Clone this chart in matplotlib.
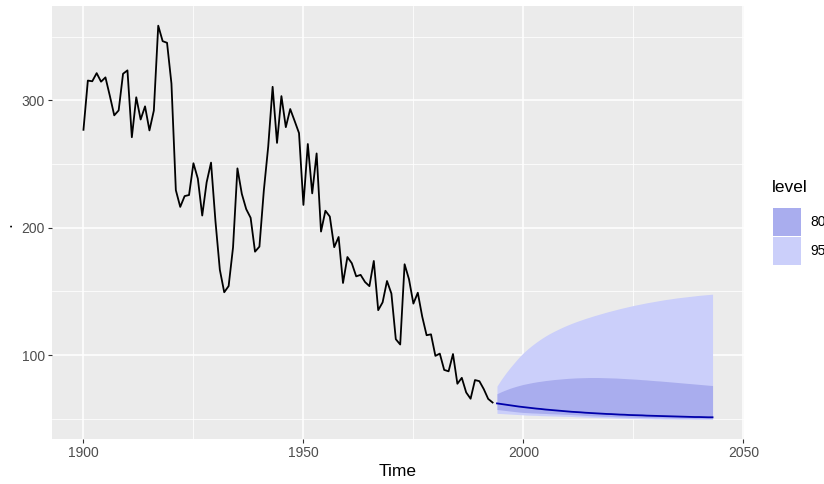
import numpy as np
import matplotlib
matplotlib.use("Agg")
import matplotlib.pyplot as plt
from matplotlib.patches import Rectangle

# ---------------------------------------------------------
# Datos: serie observada (1900-1993) y pronóstico (1994-2043)
# ---------------------------------------------------------
anios = list(range(1900, 1994))
precio = [
    276.79, 315.42, 314.87, 321.25, 314.54, 317.92, 303.39, 288.14, 292.00, 320.75,
    323.42, 270.94, 302.31, 284.87, 295.18, 276.31, 291.90, 358.49, 346.35, 345.06,
    313.09, 229.44, 216.29, 224.78, 225.59, 250.54, 238.48, 209.50, 235.57, 251.04,
    205.29, 166.99, 149.30, 154.17, 184.45, 246.52, 226.49, 214.51, 207.73, 181.15,
    185.12, 229.09, 263.70, 310.54, 266.49, 303.23, 278.86, 293.08, 283.76, 274.19,
    217.85, 265.66, 226.89, 258.25, 196.93, 213.27, 208.71, 184.68, 192.68, 156.58,
    176.95, 172.09, 161.79, 162.96, 157.37, 154.11, 173.87, 135.25, 141.37, 158.14,
    148.27, 112.48, 108.30, 171.28, 159.51, 140.41, 148.93, 130.29, 115.59, 116.29,
    99.38, 101.16, 88.38, 87.28, 100.83, 77.51, 82.16, 70.68, 65.75, 80.41,
    79.53, 73.27, 65.62, 62.80,
]

anios_fc = list(range(1994, 2044))
media_fc = [
    62.1, 61.6, 61.1, 60.6, 60.1, 59.6, 59.2, 58.8, 58.4, 58.0,
    57.7, 57.3, 57.0, 56.7, 56.4, 56.1, 55.8, 55.5, 55.3, 55.1,
    54.8, 54.6, 54.4, 54.2, 54.0, 53.8, 53.7, 53.5, 53.3, 53.2,
    53.0, 52.9, 52.8, 52.7, 52.5, 52.4, 52.3, 52.2, 52.1, 52.0,
    51.9, 51.8, 51.7, 51.6, 51.5, 51.4, 51.4, 51.3, 51.2, 51.2,
]
lo80 = [
    57.3, 56.9, 56.5, 56.1, 55.7, 55.3, 55.0, 54.8, 54.6, 54.5,
    54.3, 54.2, 54.0, 53.9, 53.8, 53.6, 53.5, 53.3, 53.1, 52.9,
    52.7, 52.5, 52.3, 52.2, 52.0, 51.9, 51.8, 51.6, 51.5, 51.4,
    51.3, 51.2, 51.1, 51.0, 51.0, 50.9, 50.8, 50.8, 50.7, 50.7,
    50.6, 50.6, 50.5, 50.5, 50.5, 50.4, 50.4, 50.4, 50.4, 50.4,
]
hi80 = [
    69.7, 71.3, 72.7, 74.0, 75.1, 76.1, 77.0, 77.7, 78.4, 79.0,
    79.5, 80.0, 80.4, 80.8, 81.1, 81.4, 81.7, 81.9, 82.1, 82.2,
    82.3, 82.4, 82.4, 82.4, 82.3, 82.2, 82.1, 82.0, 81.8, 81.6,
    81.4, 81.2, 81.0, 80.7, 80.5, 80.2, 79.9, 79.7, 79.4, 79.1,
    78.8, 78.5, 78.2, 77.9, 77.6, 77.3, 77.0, 76.7, 76.4, 76.1,
]
lo95 = [
    54.3, 54.1, 53.9, 53.7, 53.5, 53.3, 53.1, 52.9, 52.8, 52.7,
    52.5, 52.4, 52.3, 52.2, 52.1, 52.0, 51.9, 51.8, 51.6, 51.5,
    51.3, 51.2, 51.1, 51.0, 50.9, 50.8, 50.7, 50.6, 50.5, 50.4,
    50.3, 50.2, 50.2, 50.1, 50.0, 50.0, 49.9, 49.9, 49.8, 49.8,
    49.8, 49.7, 49.7, 49.7, 49.7, 49.6, 49.6, 49.6, 49.6, 49.6,
]
hi95 = [
    75.7, 81.0, 85.8, 90.2, 94.3, 98.3, 101.8, 104.9, 107.7, 110.3,
    112.7, 114.9, 116.9, 118.7, 120.4, 122.0, 123.5, 124.9, 126.2, 127.4,
    128.6, 129.7, 130.8, 131.8, 132.8, 133.8, 134.7, 135.6, 136.5, 137.3,
    138.1, 138.9, 139.6, 140.3, 141.0, 141.6, 142.2, 142.8, 143.4, 143.9,
    144.4, 144.9, 145.3, 145.7, 146.1, 146.5, 146.9, 147.2, 147.5, 147.8,
]

niveles = ["80", "95"]
color_80 = "#A9ADEE"
color_95 = "#CBCFFA"

# ---------------------------------------------------------
# Figura con estilo tipo ggplot
# ---------------------------------------------------------
plt.rcParams["font.family"] = ["Liberation Sans", "DejaVu Sans"]

fig = plt.figure(figsize=(8.24, 4.84), dpi=100)
ax = fig.add_axes([52 / 824, 1 - 439 / 484, 692 / 824, 433 / 484])
ax.set_facecolor("#EBEBEB")

# bandas de predicción y línea media
ax.fill_between(anios_fc, lo95, hi95, color=color_95, lw=0, zorder=2)
ax.fill_between(anios_fc, lo80, hi80, color=color_80, lw=0, zorder=3)
ax.plot(anios, precio, color="black", lw=1.3, zorder=4)
ax.plot(anios_fc, media_fc, color="#0000AA", lw=1.3, zorder=4)

# rangos con la expansión del 5% de ggplot
ymin = min(lo95)
ymax = max(precio)
dy = (ymax - ymin) * 0.05
ax.set_ylim(ymin - dy, ymax + dy)
xmin, xmax = anios[0], anios_fc[-1]
dx = (xmax - xmin) * 0.05
ax.set_xlim(xmin - dx, xmax + dx)

ax.set_xticks([1900, 1950, 2000, 2050])
ax.set_xticks([1925, 1975, 2025], minor=True)
ax.set_yticks([100, 200, 300])
ax.set_yticks([50, 150, 250, 350], minor=True)
ax.grid(True, which="major", color="white", lw=1.1, zorder=1)
ax.grid(True, which="minor", color="white", lw=0.55, zorder=1)
ax.set_axisbelow(True)
for s in ax.spines.values():
    s.set_visible(False)

ax.tick_params(which="major", length=3, width=0.8, color="#333333",
               labelsize=10, labelcolor="#4D4D4D", pad=2)
ax.tick_params(which="minor", length=0)

ax.set_xlabel("Time", fontsize=12.5, labelpad=3)
fig.text(0.008, 1 - 225 / 484, ".", rotation=90, fontsize=12.5,
         ha="center", va="center")

# ---------------------------------------------------------
# Leyenda manual (queda recortada por el borde derecho)
# ---------------------------------------------------------
fig.text(772 / 824, 1 - 188 / 484, "level", fontsize=12.5, va="center", ha="left")
cajas = [(208, color_80), (237, color_95)]
for (top, col), etiqueta in zip(cajas, niveles):
    fig.patches.append(Rectangle((773 / 824, 1 - (top + 28) / 484), 28 / 824, 28 / 484,
                                 transform=fig.transFigure, color=col, lw=0))
    fig.text(810 / 824, 1 - (top + 14) / 484, etiqueta, fontsize=10,
             va="center", ha="left")

fig.savefig("out.png", dpi=100)
